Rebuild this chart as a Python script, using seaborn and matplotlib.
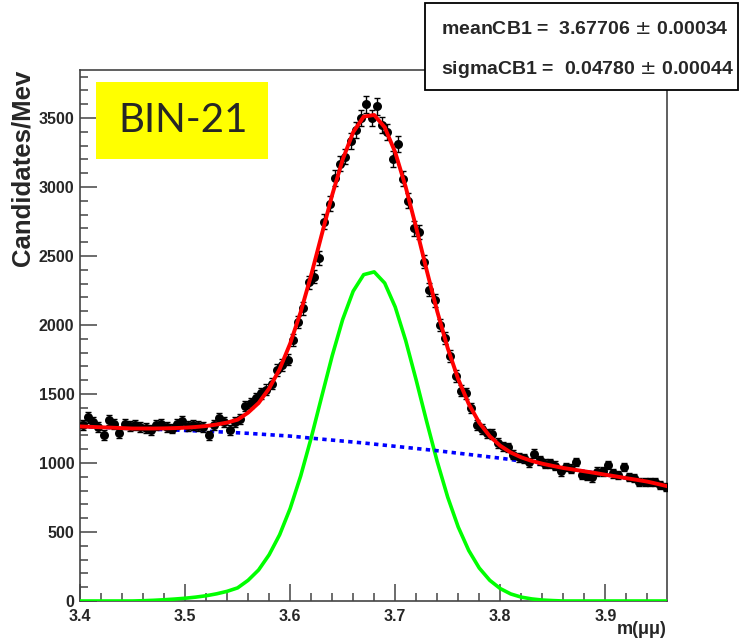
import numpy as np
import pandas as pd
import matplotlib
matplotlib.use("Agg")
import matplotlib.pyplot as plt
from matplotlib.patches import Rectangle
from matplotlib.ticker import MultipleLocator
import seaborn as sns

# ---------------- data ----------------
bin_centers = np.round(3.4025 + 0.005 * np.arange(112), 4)
counts = [
    1275, 1330, 1295, 1262, 1205, 1310, 1285, 1215, 1285, 1270,
    1275, 1262, 1255, 1240, 1275, 1280, 1260, 1250, 1285, 1305,
    1270, 1275, 1270, 1260, 1200, 1275, 1325, 1300, 1240, 1300,
    1320, 1415, 1435, 1470, 1505, 1530, 1575, 1675, 1710, 1750,
    1890, 2020, 2120, 2310, 2350, 2485, 2750, 2880, 3065, 3170,
    3220, 3335, 3410, 3500, 3600, 3500, 3585, 3450, 3400, 3205,
    3310, 3060, 2900, 2700, 2675, 2460, 2255, 2180, 2000, 1905,
    1775, 1630, 1525, 1505, 1400, 1275, 1245, 1215, 1210, 1145,
    1120, 1115, 1060, 1040, 1035, 1005, 1068, 1020, 995, 998,
    980, 940, 970, 960, 1008, 912, 905, 895, 937, 940,
    985, 925, 915, 972, 900, 893, 864, 860, 862, 860,
    840, 825,
]

curve_x = np.round(np.arange(3.40, 3.9651, 0.01), 2)
signal = [
    0, 0, 0, 0, 0, 0, 2, 5, 9, 14,
    20, 28, 38, 52, 70, 95, 150, 225, 335, 480,
    670, 905, 1181, 1480, 1776, 2040, 2245, 2365, 2385, 2304,
    2131, 1887, 1600, 1299, 1010, 752, 536, 366, 239, 150,
    90, 51, 28, 15, 7, 3, 0, 0, 0, 0,
    0, 0, 0, 0, 0, 0, 0,
]
background = [
    1265, 1262, 1259, 1256, 1253, 1250, 1248, 1245, 1242, 1239,
    1236, 1233, 1230, 1227, 1223, 1219, 1215, 1210, 1205, 1200,
    1195, 1188, 1180, 1173, 1166, 1159, 1152, 1145, 1137, 1129,
    1121, 1113, 1105, 1097, 1089, 1080, 1071, 1062, 1053, 1044,
    1035, 1025, 1013, 1000, 988, 976, 964, 952, 940, 928,
    915, 903, 890, 878, 865, 848, 830,
]
total = [
    1265, 1262, 1259, 1256, 1253, 1250, 1250, 1250, 1251, 1253,
    1256, 1261, 1268, 1279, 1293, 1314, 1365, 1435, 1540, 1680,
    1865, 2093, 2361, 2653, 2942, 3199, 3397, 3510, 3522, 3433,
    3252, 3000, 2705, 2396, 2099, 1832, 1607, 1428, 1292, 1194,
    1125, 1076, 1041, 1015, 995, 979, 964, 952, 940, 928,
    915, 903, 890, 878, 865, 848, 830,
]

x_ticks = [3.4, 3.5, 3.6, 3.7, 3.8, 3.9]
x_tick_labels = ["3.4", "3.5", "3.6", "3.7", "3.8", "3.9"]
y_ticks = [0, 500, 1000, 1500, 2000, 2500, 3000, 3500]
y_tick_labels = ["0", "500", "1000", "1500", "2000", "2500", "3000", "3500"]

stats_lines = [("meanCB1 =  3.67706", "0.00034"), ("sigmaCB1 =  0.04780", "0.00044")]
bin_label = "BIN-21"

df_pts = pd.DataFrame({"x": bin_centers, "y": counts})
df_curves = pd.DataFrame({"x": curve_x, "sig": signal, "bkg": background, "tot": total})

# ---------------- style ----------------
sns.set_style("ticks")
plt.rcParams["font.family"] = ["Liberation Sans", "DejaVu Sans"]

fig = plt.figure(figsize=(7.40, 6.41), dpi=100)
ax = fig.add_axes([80 / 740, 40 / 641, 587 / 740, 531 / 641])

sns.lineplot(data=df_curves, x="x", y="sig", ax=ax, color="#00ff00", lw=2.6,
             sort=False, estimator=None, zorder=3)
sns.lineplot(data=df_curves, x="x", y="bkg", ax=ax, color="#0000ff", lw=2.6,
             sort=False, estimator=None, zorder=3, linestyle=(0, (1.2, 1.2)))
ax.errorbar(df_pts["x"], df_pts["y"], yerr=np.sqrt(df_pts["y"]), fmt="none",
            ecolor="black", elinewidth=1.0, capsize=2.5, capthick=1.0, zorder=4)
sns.scatterplot(data=df_pts, x="x", y="y", ax=ax, color="black", s=42,
                edgecolor="black", linewidth=0, zorder=5)
sns.lineplot(data=df_curves, x="x", y="tot", ax=ax, color="#ff0000", lw=2.8,
             sort=False, estimator=None, zorder=6)

ax.set_xlim(3.4, 3.9587)
ax.set_ylim(0, 3848)
ax.set_xticks(x_ticks)
ax.set_xticklabels(x_tick_labels)
ax.set_yticks(y_ticks)
ax.set_yticklabels(y_tick_labels)
ax.xaxis.set_minor_locator(MultipleLocator(0.02))
ax.yaxis.set_minor_locator(MultipleLocator(100))
ax.tick_params(axis="both", which="major", direction="in", length=12, width=1.1,
               color="#444444", labelsize=11.5)
ax.tick_params(axis="x", which="major", pad=5.5)
ax.tick_params(axis="y", which="major", pad=4)
ax.tick_params(axis="both", which="minor", direction="in", length=6, width=1.1,
               color="#444444")
ax.tick_params(top=False, right=False, which="both")
for lab in ax.get_xticklabels() + ax.get_yticklabels():
    lab.set_fontweight("bold")
for sp in ax.spines.values():
    sp.set_visible(True)
    sp.set_color("#444444")
    sp.set_linewidth(1.2)

ax.set_ylabel("Candidates/Mev", fontsize=18.5, fontweight="bold", loc="top")
ax.yaxis.set_label_coords(-0.077, 1.0)
ax.set_xlabel("m(μμ)", fontsize=13, fontweight="bold", loc="right")
ax.xaxis.set_label_coords(1.0, -0.037)

# yellow BIN box
fig.patches.append(Rectangle((96 / 740, 482 / 641), 172 / 740, 77 / 641,
                             transform=fig.transFigure, facecolor="#ffff00",
                             edgecolor="none", zorder=10))
fig.text(183 / 740, 1 - 121 / 641, bin_label, fontsize=29, family=["Lato", "DejaVu Sans"],
         ha="center", va="center", zorder=11)

# stats box
fig.patches.append(Rectangle((425 / 740, 551 / 641), 313 / 740, 87 / 641,
                             transform=fig.transFigure, facecolor="white",
                             edgecolor="black", linewidth=1.3, zorder=10))
for i, (lhs, err) in enumerate(stats_lines):
    yy = 1 - (30 + 40 * i) / 641
    fig.text(441 / 740, yy, f"{lhs} $\\pm$ {err}", fontsize=14, fontweight="bold",
             ha="left", va="center", zorder=11)

fig.savefig("out.png", dpi=100)
